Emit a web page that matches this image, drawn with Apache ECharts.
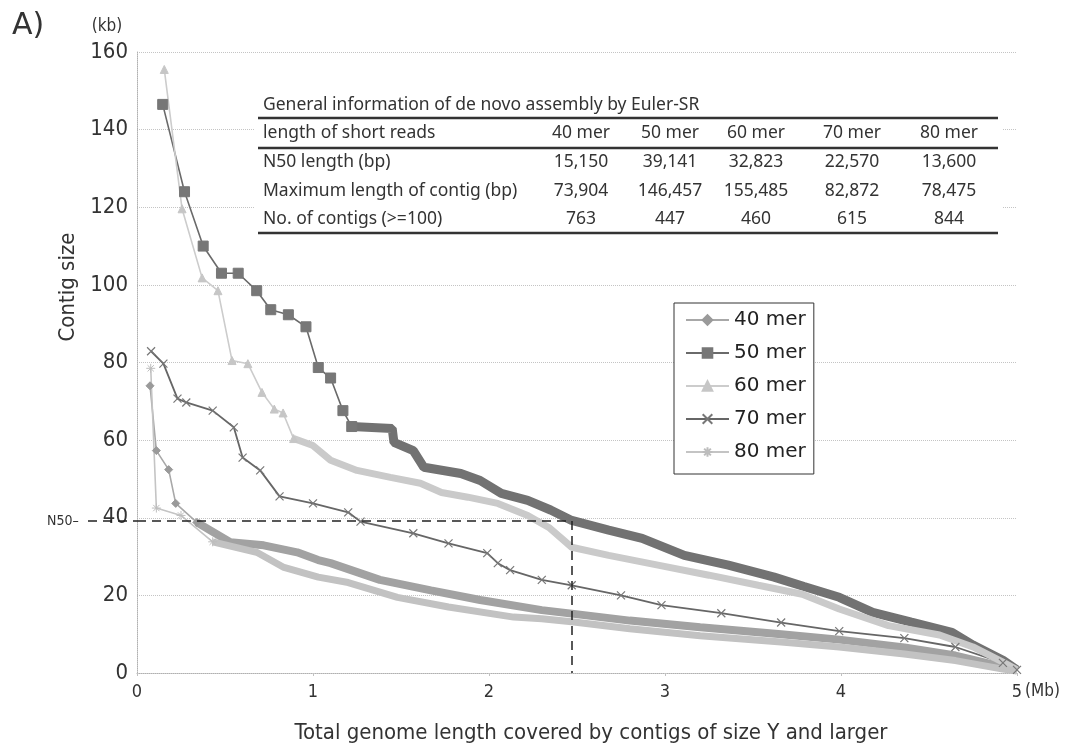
<!DOCTYPE html>
<html lang="en">
<head>
<meta charset="utf-8">
<title>Contig size</title>
<script src="https://cdn.jsdelivr.net/npm/echarts@6/dist/echarts.min.js"></script>
<style>
    html, body { margin: 0; padding: 0; background: #ffffff; }
    #main { width: 1070px; height: 751px; }
</style>
</head>
<body>
<div id="main"></div>
<script>
// x = total genome length covered (Mb), y = contig size (kb)
let merNames = ['40 mer', '50 mer', '60 mer', '70 mer', '80 mer'];

let mer40 = [[0.074, 74], [0.11, 57.3], [0.18, 52.4], [0.22, 43.7], [0.34, 38.8],
    [0.53, 33.7], [0.72, 32.9], [0.91, 31.1], [1.03, 29.1], [1.10, 28.3], [1.38, 24],
    [1.67, 21.3], [1.95, 18.8], [2.30, 16.2], [2.47, 15.3], [2.8, 13.5], [3.2, 11.8],
    [3.66, 10.0], [3.99, 8.6], [4.36, 6.6], [4.65, 4.5], [4.92, 1.6], [5.0, 0.7]];
let mer50 = [[0.146, 146.5], [0.27, 124], [0.376, 110], [0.48, 103], [0.575, 103],
    [0.68, 98.5], [0.76, 93.6], [0.86, 92.3], [0.96, 89.2], [1.03, 78.7], [1.10, 76],
    [1.17, 67.6], [1.22, 63.5], [1.45, 63], [1.46, 59.4], [1.57, 57.3], [1.63, 53],
    [1.84, 51.4], [1.95, 49.6], [2.07, 46.3], [2.22, 44.5], [2.35, 42], [2.47, 39.3],
    [2.68, 36.8], [2.87, 34.7], [3.11, 30.3], [3.36, 27.8], [3.62, 24.7], [3.79, 22.3],
    [3.99, 19.5], [4.18, 15.6], [4.40, 13.1], [4.63, 10.5], [4.75, 7.2], [4.92, 3.3], [5.0, 0.8]];
let mer60 = [[0.155, 155.5], [0.256, 119.6], [0.37, 101.8], [0.46, 98.5], [0.54, 80.5],
    [0.63, 79.7], [0.71, 72.3], [0.78, 68], [0.83, 67], [0.89, 60.4], [1.0, 58.6],
    [1.10, 54.8], [1.25, 52.2], [1.44, 50.4], [1.61, 48.9], [1.73, 46.5], [1.88, 45.3],
    [2.05, 43.7], [2.22, 40.6], [2.34, 37.5], [2.47, 32.4], [2.68, 30.3], [2.96, 27.8],
    [3.25, 25.2], [3.53, 22.6], [3.78, 20.3], [3.99, 16.5], [4.27, 12.2], [4.56, 9.8],
    [4.75, 6.7], [4.92, 2.8], [5.0, 0.8]];
let mer70 = [[0.08, 82.9], [0.15, 79.7], [0.23, 70.7], [0.28, 69.7], [0.43, 67.6],
    [0.55, 63.3], [0.60, 55.5], [0.70, 52.2], [0.81, 45.5], [1.0, 43.7], [1.20, 41.4],
    [1.27, 39], [1.57, 36], [1.77, 33.4], [1.99, 30.9], [2.05, 28.3], [2.12, 26.5],
    [2.30, 24], [2.47, 22.6], [2.75, 20], [2.98, 17.5], [3.32, 15.4], [3.66, 13],
    [3.99, 10.8], [4.36, 9], [4.65, 6.7], [4.92, 2.6], [5.0, 0.8]];
let mer80 = [[0.078, 78.5], [0.11, 42.5], [0.25, 40.6], [0.43, 33.8], [0.68, 31.1],
    [0.83, 27.3], [1.03, 24.7], [1.2, 23.3], [1.48, 19.5], [1.77, 17], [2.14, 14.4],
    [2.30, 14], [2.47, 13.2], [2.8, 11.4], [3.2, 9.6], [3.66, 8.0], [3.99, 6.7],
    [4.36, 4.9], [4.65, 3.2], [4.92, 1.0], [5.0, 0.5]];

// N50 of the 50 mer assembly and where it is reached
let n50Kb = 39.141;
let n50Mb = 2.47;

let tableTitle = 'General information of de novo assembly by Euler-SR';
let tableHeader = ['length of short reads', '40 mer', '50 mer', '60 mer', '70 mer', '80 mer'];
let n50Row = ['N50 length (bp)', '15,150', '39,141', '32,823', '22,570', '13,600'];
let maxRow = ['Maximum length of contig (bp)', '73,904', '146,457', '155,485', '82,872', '78,475'];
let countRow = ['No. of contigs (>=100)', '763', '447', '460', '615', '844'];

let yTicks = [0, 20, 40, 60, 80, 100, 120, 140, 160];
let xTicks = [0, 1, 2, 3, 4, 5];

let condensed = "'DejaVu Sans Condensed', 'DejaVu Sans', sans-serif";
let crossPath = 'path://M0,0L10,10M10,0L0,10';
let starPath = 'path://M5,0L5,10M0,5L10,5M1.5,1.5L8.5,8.5M8.5,1.5L1.5,8.5';

// sparse marker part of a curve, thin line
function headSeries(name, pts, symbol, size, color, line) {
    return {
        name: name, type: 'line', data: pts, symbol: symbol, symbolSize: size,
        lineStyle: {color: line, width: 1.6},
        itemStyle: {color: color, borderColor: color, borderWidth: 1},
        emphasis: {disabled: true}, animation: false
    };
}
// dense part where the markers merge into a band
function tailSeries(name, pts, color, width) {
    return {
        name: name, type: 'line', data: pts, symbol: 'none',
        lineStyle: {color: color, width: width},
        itemStyle: {color: color},
        emphasis: {disabled: true}, animation: false
    };
}

let series = [
    headSeries('40 mer', mer40.slice(0, 5), 'diamond', 8, '#9a9a9a', '#a8a8a8'),
    headSeries('50 mer', mer50.slice(0, 13), 'rect', 10, '#777777', '#6a6a6a'),
    headSeries('60 mer', mer60.slice(0, 10), 'triangle', 8, '#c6c6c6', '#cccccc'),
    {
        name: '70 mer', type: 'line', data: mer70, symbol: crossPath, symbolSize: 8,
        lineStyle: {color: '#666666', width: 1.8},
        itemStyle: {color: 'none', borderColor: '#777777', borderWidth: 1.2},
        emphasis: {disabled: true}, animation: false
    },
    headSeries('80 mer', mer80.slice(0, 4), starPath, 9, '#bdbdbd', '#c4c4c4'),
    tailSeries('40 mer', mer40.slice(4), '#a2a2a2', 8),
    tailSeries('50 mer', mer50.slice(12), '#727272', 9),
    tailSeries('60 mer', mer60.slice(9), '#cacaca', 7),
    tailSeries('80 mer', mer80.slice(3), '#c2c2c2', 7)
];
// dashed N50 guide lines
series[1].markLine = {
    silent: true, symbol: 'none', animation: false,
    label: {show: false},
    lineStyle: {color: '#222222', width: 1.5, type: [9, 6]},
    data: [
        [{coord: [0, n50Kb]}, {coord: [n50Mb, n50Kb]}],
        [{coord: [n50Mb, n50Kb]}, {coord: [n50Mb, 0]}]
    ]
};

let myChart = echarts.init(document.getElementById('main'), null, {renderer: 'canvas'});
myChart.setOption({
    backgroundColor: '#ffffff',
    animation: false,
    grid: {left: 137, right: 53, top: 52, bottom: 78},
    xAxis: {
        type: 'value', min: xTicks[0], max: xTicks[xTicks.length - 1], interval: 1,
        axisLine: {lineStyle: {color: '#b0b0b0', type: 'dotted'}},
        axisTick: {length: 3, lineStyle: {color: '#c0c0c0'}},
        axisLabel: {fontSize: 18, fontFamily: condensed, color: '#333333', margin: 10},
        splitLine: {show: false}
    },
    yAxis: {
        type: 'value', min: yTicks[0], max: yTicks[yTicks.length - 1], interval: 20,
        axisLine: {show: true, lineStyle: {color: '#b0b0b0', type: 'dotted'}},
        axisTick: {show: false},
        axisLabel: {fontSize: 22, fontFamily: condensed, color: '#333333', margin: 9},
        splitLine: {lineStyle: {color: '#c4c4c4', type: 'dotted'}}
    },
    legend: {
        data: merNames, orient: 'vertical', left: 674, top: 303,
        itemWidth: 43, itemHeight: 12, itemGap: 13,
        padding: [7, 8, 12, 11],
        borderColor: '#333333', borderWidth: 1, backgroundColor: '#ffffff',
        textStyle: {fontSize: 20, fontFamily: 'DejaVu Sans', color: '#222222'}
    },
    series: series
});

// texts, table and the N50 tick outside the plot
let origin = myChart.convertToPixel({gridIndex: 0}, [0, n50Kb]);
let graphics = [];
function addText(x, y, text, size, family, align, extra) {
    let el = {
        type: 'text', x: x, y: y, z: 20,
        style: {text: text, fontSize: size, fontFamily: family, fill: '#333333',
            align: align, verticalAlign: 'middle'}
    };
    if (extra) Object.assign(el, extra);
    graphics.push(el);
}
addText(12, 26, 'A)', 30, 'DejaVu Sans', 'left');
addText(107, 27, '(kb)', 17, condensed, 'center');
addText(1025, 692, '(Mb)', 17, condensed, 'left');
addText(68, 287, 'Contig size', 22, condensed, 'center', {rotation: Math.PI / 2});
addText(591, 733, 'Total genome length covered by contigs of size Y and larger', 22, condensed, 'center');
addText(47, origin[1], 'N50\u2013', 14, condensed, 'left');
graphics.push({
    type: 'line', z: 20,
    shape: {x1: 88, y1: origin[1], x2: origin[0], y2: origin[1]},
    style: {stroke: '#222222', lineWidth: 1.5, lineDash: [9, 6]}
});

// table block
graphics.push({type: 'rect', z: 10, shape: {x: 254, y: 93, width: 748, height: 146}, style: {fill: '#ffffff'}});
[118, 148, 233].forEach(function (y) {
    graphics.push({type: 'line', z: 20, shape: {x1: 258, y1: y, x2: 998, y2: y},
        style: {stroke: '#333333', lineWidth: 2.5}});
});
let tableFont = "'Noto Sans', sans-serif";
addText(263, 105, tableTitle, 17.5, tableFont, 'left');
let colX = [581, 670, 756, 852, 949];
let rows = [tableHeader, n50Row, maxRow, countRow];
let rowY = [133, 162, 191, 219];
for (let r = 0; r < rows.length; r++) {
    addText(263, rowY[r], rows[r][0], 17.5, tableFont, 'left');
    for (let c = 1; c < rows[r].length; c++) {
        addText(colX[c - 1], rowY[r], rows[r][c], 17.5, tableFont, 'center');
    }
}
myChart.setOption({graphic: graphics});
</script>
</body>
</html>
